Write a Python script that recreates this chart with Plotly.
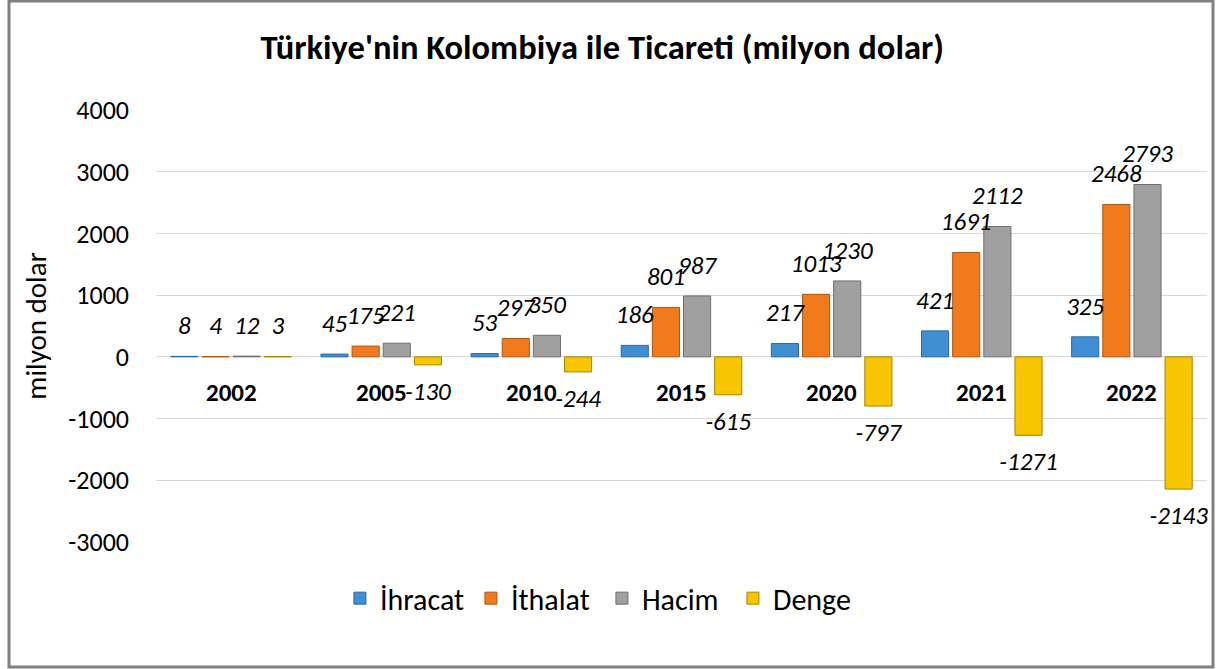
import plotly.graph_objects as go

years = ["2002", "2005", "2010", "2015", "2020", "2021", "2022"]
ihracat = [8, 45, 53, 186, 217, 421, 325]
ithalat = [4, 175, 297, 801, 1013, 1691, 2468]
hacim = [12, 221, 350, 987, 1230, 2112, 2793]
denge = [3, -130, -244, -615, -797, -1271, -2143]
y_ticks = [-3000, -2000, -1000, 0, 1000, 2000, 3000, 4000]

series = [
    ("İhracat", ihracat, "#3f8fd2", "#2a6aa3"),
    ("İthalat", ithalat, "#f07a1c", "#b5540d"),
    ("Hacim", hacim, "#a0a0a0", "#6e6e6e"),
    ("Denge", denge, "#f7c600", "#a88400"),
]

FONT = "Carlito, Calibri, Lato, 'Open Sans', sans-serif"
GAP = 0.17

fig = go.Figure()
for name, vals, col, edge in series:
    fig.add_trace(go.Bar(
        name=name, x=years, y=vals,
        marker=dict(color=col, line=dict(color=edge, width=1)),
        offsetgroup=name, alignmentgroup="g",
        cliponaxis=False,
    ))
for name, vals, col, edge in series:
    fig.add_trace(go.Scatter(
        name=name + " etiket", x=years, y=vals, showlegend=False,
        mode="markers+text",
        marker=dict(size=24, opacity=0, color=col),
        text=[str(v) for v in vals],
        textposition=["top center" if v >= 0 else "bottom center" for v in vals],
        textfont=dict(family=FONT, size=25, color="black", style="italic"),
        offsetgroup=name, alignmentgroup="g", cliponaxis=False, hoverinfo="skip",
    ))

annotations = [
    dict(x=i, y=0, xref="x", yref="y", yshift=-36, text=f"<b>{y}</b>",
         showarrow=False, font=dict(family=FONT, size=25, color="black"))
    for i, y in enumerate(years)
]

fig.update_layout(
    width=1219, height=669,
    margin=dict(l=156, r=12, t=110, b=127),
    paper_bgcolor="white", plot_bgcolor="white",
    barmode="group", bargap=GAP, bargroupgap=0.13,
    scattermode="group", scattergap=GAP,
    title=dict(text="<b>Türkiye'nin Kolombiya ile Ticareti (milyon dolar)</b>",
               x=0.494, xanchor="center", y=0.93, yanchor="middle",
               font=dict(family=FONT, size=34.5, color="black")),
    font=dict(family=FONT, color="black"),
    xaxis=dict(type="category", showticklabels=False, showgrid=False, zeroline=False,
               showline=False, ticks="", range=[-0.5, len(years) - 0.5]),
    yaxis=dict(range=[-3000, 4000], tickmode="array", tickvals=y_ticks,
               ticktext=[str(t) for t in y_ticks],
               showgrid=True, gridcolor="#d9d9d9",
               gridwidth=1, zeroline=True, zerolinecolor="#d9d9d9", zerolinewidth=1,
               tickfont=dict(family=FONT, size=26, color="black"), ticks="", ticklabelstandoff=26,
               title=dict(text="milyon dolar", font=dict(family=FONT, size=29, color="black"), standoff=13)),
    legend=dict(orientation="h", x=0.175, xanchor="left", y=-0.13, yanchor="middle",
                font=dict(family=FONT, size=30, color="black"), traceorder="normal",
                itemwidth=30, entrywidth=86, entrywidthmode="pixels"),
    annotations=annotations,
    showlegend=True,
    shapes=[dict(type="rect", xref="paper", yref="paper",
                 x0=(9 - 156) / 1051, x1=(1213 - 156) / 1051,
                 y0=(542 - 667) / 432, y1=(542 - 1) / 432,
                 line=dict(color="#808080", width=3), fillcolor="rgba(0,0,0,0)", layer="below")],
)

fig.write_html("out.html", config={"displayModeBar": False},
               post_script="document.body.style.margin='0';")
